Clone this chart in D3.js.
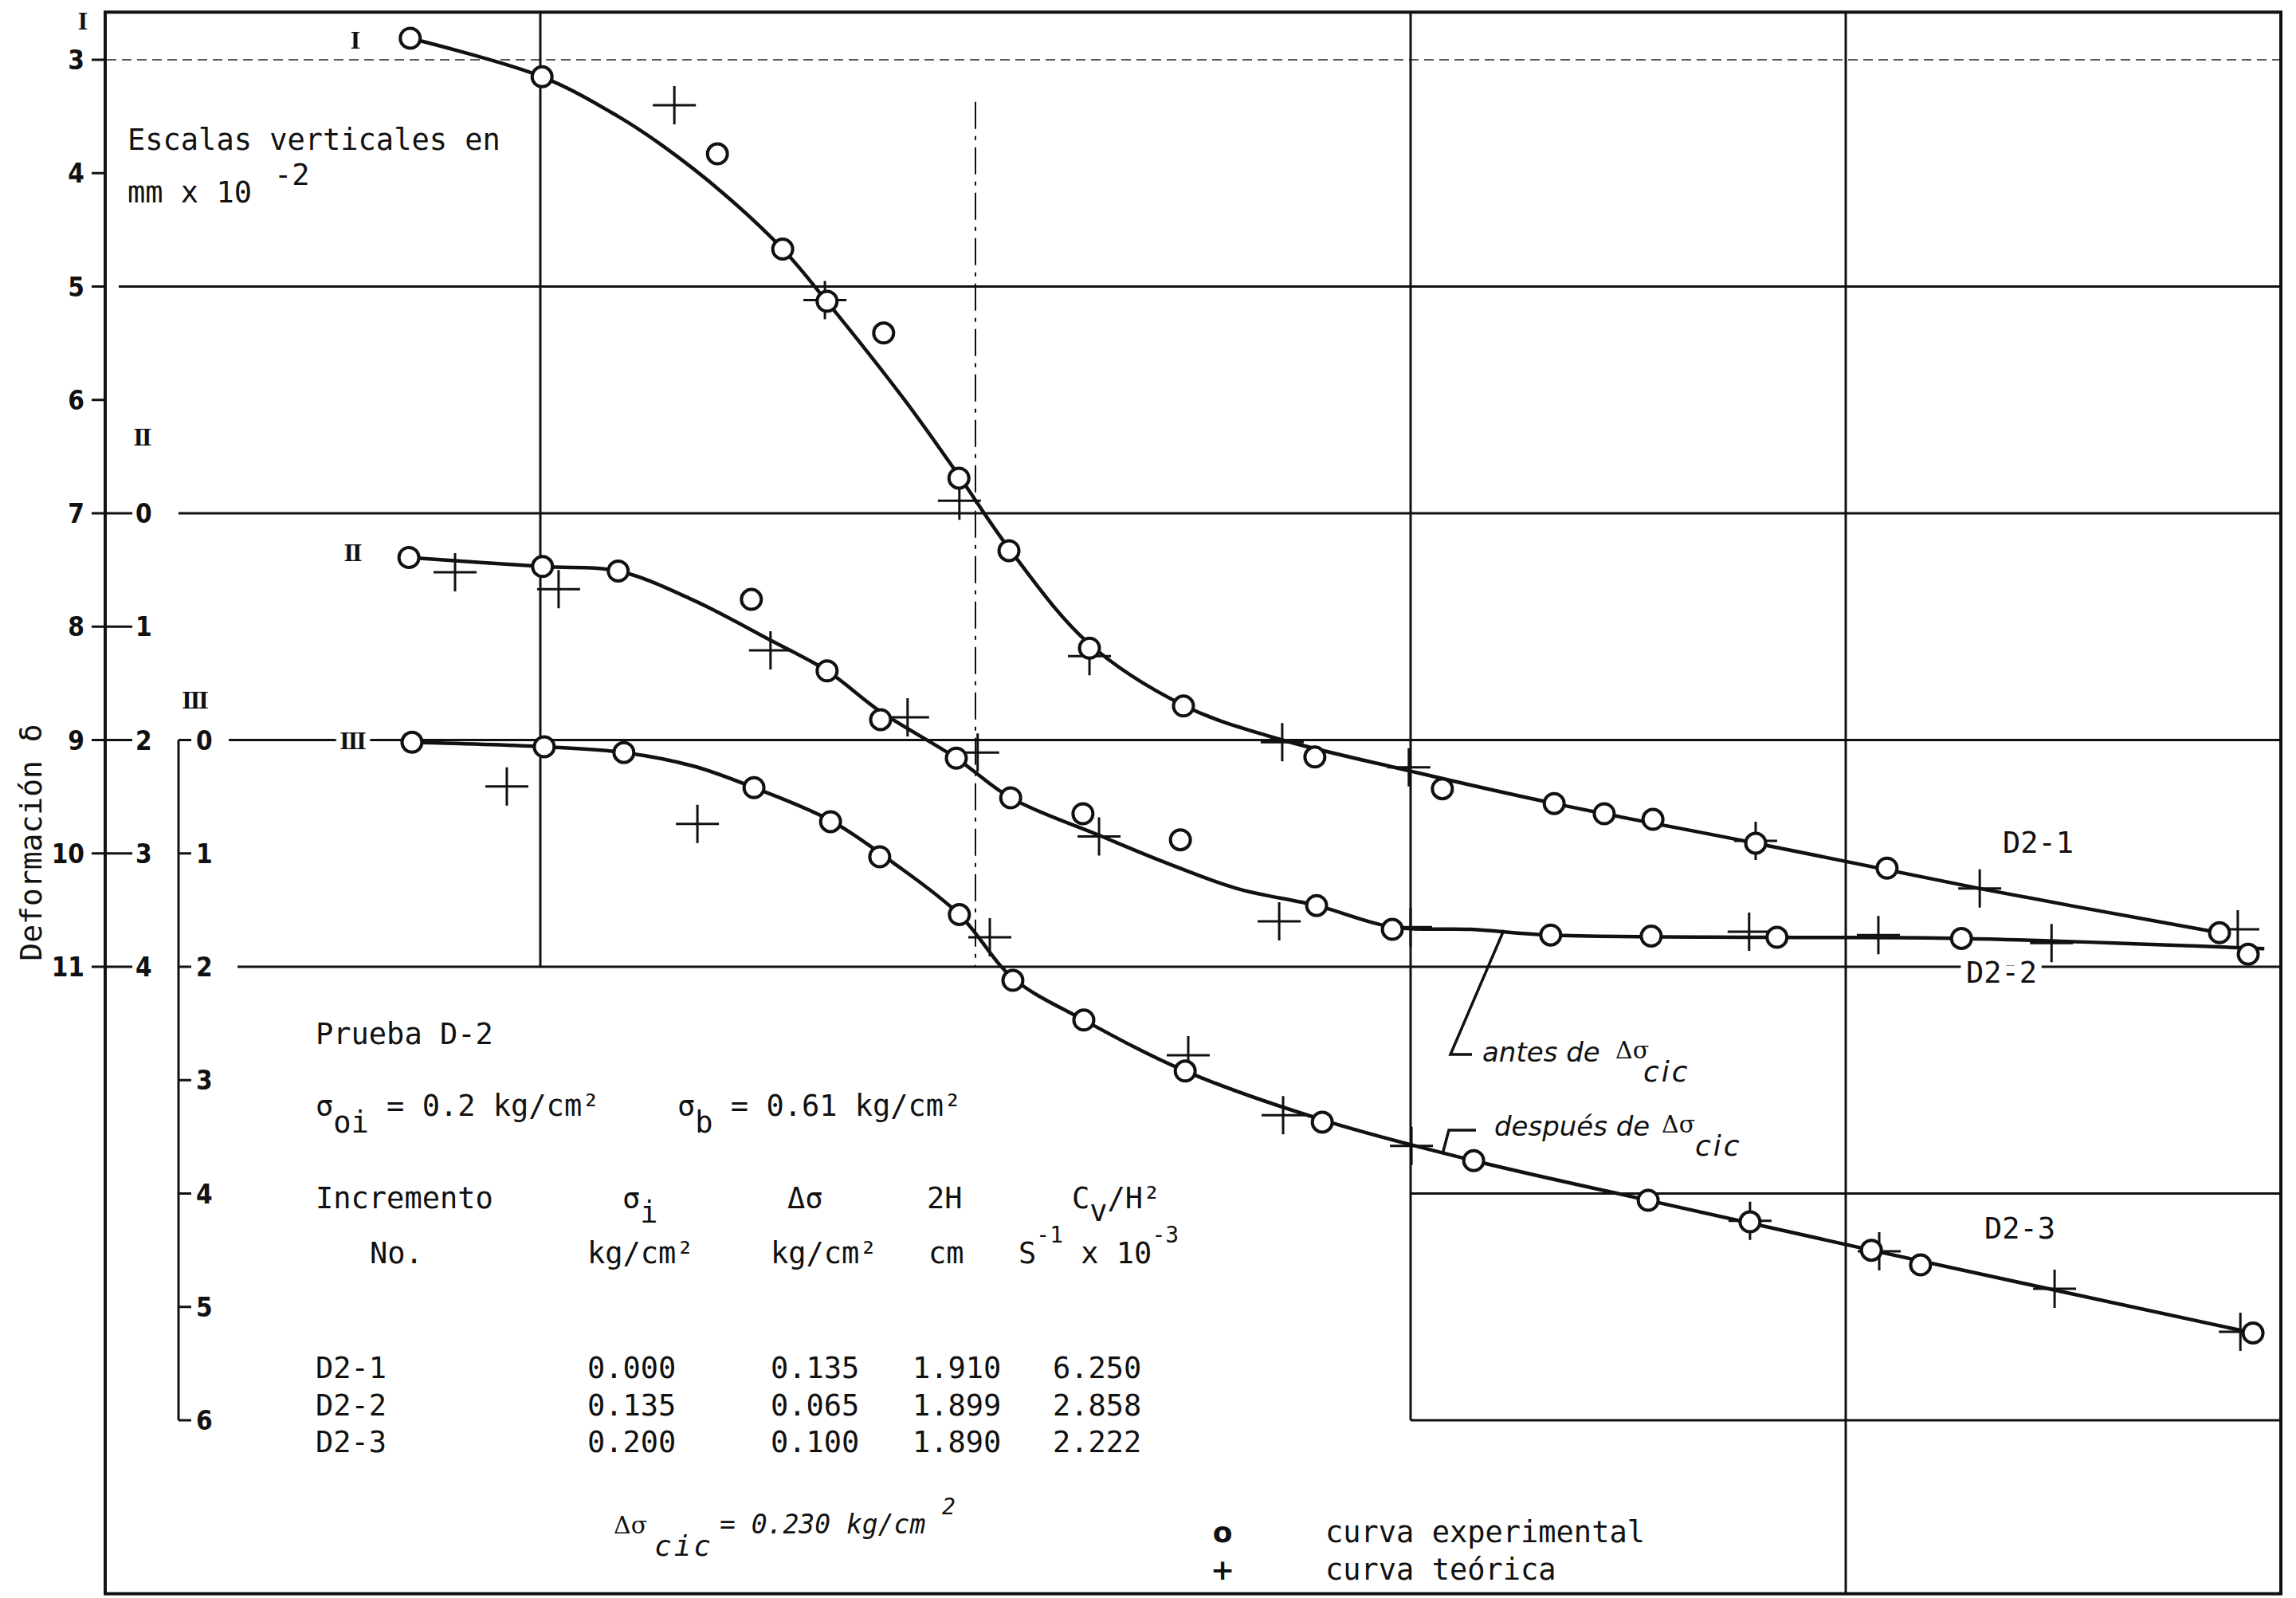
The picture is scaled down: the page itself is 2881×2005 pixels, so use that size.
<!DOCTYPE html>
<html>
<head>
<meta charset="utf-8">
<script src="https://cdn.jsdelivr.net/npm/d3@7"></script>
<style>
  body { margin: 0; background: #fff; }
  svg { display: block; }
  text { font-family: "DejaVu Sans Mono", monospace; fill: #111; }
</style>
</head>
<body>
<svg id="chart" width="2881" height="2005"></svg>
<script>
// x is in log-cycles of time (no labels on the original), y in mm x 10^-2
const xGrid = [1, 2, 3, 4];
const scaleITicks = [3, 4, 5, 6, 7, 8, 9, 10, 11];
const scaleIITicks = [0, 1, 2, 3, 4];
const scaleIIITicks = [0, 1, 2, 3, 4, 5, 6];
const offsetII = 7;   // zero of scale II read on scale I
const offsetIII = 9;  // zero of scale III read on scale I

// curve I (scale I)
const curveIExp = [
  [0.701, 2.81], [1.004, 3.15], [1.407, 3.83], [1.557, 4.67], [1.659, 5.13],
  [1.789, 5.41], [1.962, 6.69], [2.077, 7.33], [2.262, 8.19], [2.478, 8.70],
  [2.780, 9.15], [3.073, 9.43], [3.330, 9.56], [3.445, 9.65], [3.557, 9.70],
  [3.793, 9.91], [4.095, 10.13], [4.859, 10.70],
];
const curveITheo = [
  [1.308, 3.40], [1.654, 5.12], [1.963, 6.89], [2.262, 8.26], [2.705, 9.02],
  [2.996, 9.24], [3.793, 9.89], [4.308, 10.31], [4.901, 10.67],
];
const curveILine = [
  [0.701, 2.81], [1.004, 3.15], [1.179, 3.50], [1.278, 3.75], [1.418, 4.17],
  [1.557, 4.67], [1.656, 5.12], [1.839, 6.01], [1.962, 6.67], [2.077, 7.31],
  [2.258, 8.14], [2.476, 8.69], [2.678, 8.97], [2.995, 9.27], [3.330, 9.56],
  [3.793, 9.91], [4.308, 10.31], [4.859, 10.70],
];

// curve II (scale II)
const curveIIExp = [
  [0.698, 0.39], [1.005, 0.47], [1.179, 0.51], [1.485, 0.76], [1.659, 1.39],
  [1.782, 1.82], [1.956, 2.16], [2.081, 2.51], [2.247, 2.65], [2.471, 2.88],
  [2.784, 3.46], [2.958, 3.67], [3.322, 3.72], [3.553, 3.73], [3.842, 3.74],
  [4.266, 3.75], [4.925, 3.89],
];
const curveIITheo = [
  [0.804, 0.52], [1.042, 0.67], [1.529, 1.21], [1.844, 1.80], [2.005, 2.11],
  [2.284, 2.85], [2.698, 3.60], [3.000, 3.65], [3.778, 3.69], [4.075, 3.72],
  [4.473, 3.79],
];
const curveIILine = [
  [0.698, 0.39], [1.005, 0.47], [1.179, 0.51], [1.348, 0.76], [1.529, 1.12],
  [1.659, 1.39], [1.782, 1.75], [1.956, 2.16], [2.081, 2.51], [2.284, 2.84],
  [2.436, 3.08], [2.601, 3.31], [2.784, 3.46], [2.958, 3.65], [3.139, 3.67],
  [3.322, 3.72], [3.842, 3.74], [4.266, 3.75], [4.962, 3.84],
];

// curve III (scale III)
const curveIIIExp = [
  [0.705, 0.02], [1.009, 0.06], [1.192, 0.11], [1.491, 0.42], [1.667, 0.72],
  [1.780, 1.03], [1.963, 1.54], [2.086, 2.12], [2.249, 2.47], [2.482, 2.92],
  [2.797, 3.37], [3.145, 3.71], [3.546, 4.06], [3.780, 4.25], [4.059, 4.50],
  [4.172, 4.63], [4.936, 5.23],
];
const curveIIITheo = [
  [0.923, 0.41], [1.361, 0.74], [2.033, 1.74], [2.489, 2.78], [2.707, 3.31],
  [3.002, 3.58], [3.780, 4.24], [4.077, 4.51], [4.480, 4.84], [4.907, 5.22],
];
const curveIIILine = [
  [0.705, 0.02], [1.009, 0.06], [1.192, 0.11], [1.352, 0.23], [1.491, 0.42],
  [1.667, 0.71], [1.810, 1.08], [1.963, 1.54], [2.086, 2.10], [2.249, 2.47],
  [2.482, 2.92], [2.797, 3.35], [3.145, 3.71], [3.546, 4.06], [4.059, 4.50],
  [4.936, 5.23],
];

// table of the test
const incrementos = ["D2-1", "D2-2", "D2-3"];
const sigmaI = ["0.000", "0.135", "0.200"];
const deltaSigma = ["0.135", "0.065", "0.100"];
const dosH = ["1.910", "1.899", "1.890"];
const cvH2 = ["6.250", "2.858", "2.222"];

const svg = d3.select("#chart");
const x = d3.scaleLinear().domain([0, 5]).range([132, 2862]);
const y = d3.scaleLinear().domain([3, 11]).range([75, 1213]);
const frameTop = y(2.58), frameBottom = y(16.53);

svg.append("rect").attr("width", 2881).attr("height", 2005).attr("fill", "white");

const grid = svg.append("g").attr("stroke", "#111").attr("fill", "none");

// horizontal lines
grid.append("line")
  .attr("x1", 115).attr("x2", x(5)).attr("y1", y(3)).attr("y2", y(3))
  .attr("stroke-width", 2).attr("stroke-dasharray", "12,7").attr("opacity", 0.7);
const hLines = [
  { v: 5, from: 149, to: x(5) },
  { v: 7, from: 224, to: x(5) },
  { v: 9, from: 287, to: x(5) },
  { v: 11, from: 298, to: x(5) },
  { v: 13, from: x(3), to: x(5) },
  { v: 15, from: x(3), to: x(5) },
];
grid.selectAll(".hline")
  .data(hLines)
  .enter()
  .append("line")
  .attr("class", "hline")
  .attr("x1", (d) => d.from).attr("x2", (d) => d.to)
  .attr("y1", (d) => y(d.v)).attr("y2", (d) => y(d.v))
  .attr("stroke-width", 3);

// vertical lines: 1 and 2 stop at v=11, 3 closes the box at v=15, 4 runs full height
const vEnd = { 1: y(11), 2: y(11), 3: y(15), 4: frameBottom };
grid.selectAll(".vline")
  .data(xGrid)
  .enter()
  .append("line")
  .attr("class", "vline")
  .attr("x1", (d) => x(d)).attr("x2", (d) => x(d))
  .attr("y1", (d) => (d === 2 ? y(3.37) : frameTop))
  .attr("y2", (d) => vEnd[d])
  .attr("stroke-width", (d) => (d === 2 ? 2 : 3))
  .attr("stroke-dasharray", (d) => (d === 2 ? "34,9,5,9" : null));

// frame
grid.append("rect")
  .attr("x", x(0)).attr("y", frameTop)
  .attr("width", x(5) - x(0)).attr("height", frameBottom - frameTop)
  .attr("stroke-width", 4);

// scale I and II ticks on the left edge
const axes = svg.append("g");
axes.selectAll(".tickI")
  .data(scaleITicks)
  .enter()
  .append("line")
  .attr("x1", 115).attr("x2", (d) => (d >= 7 ? 166 : x(0)))
  .attr("y1", (d) => y(d)).attr("y2", (d) => y(d))
  .attr("stroke", "#111").attr("stroke-width", 3);
axes.selectAll(".labI")
  .data(scaleITicks)
  .enter()
  .append("text")
  .attr("x", 106).attr("y", (d) => y(d) + 12)
  .attr("text-anchor", "end")
  .style("font-family", "'DejaVu Sans Condensed', sans-serif")
  .style("font-weight", "bold")
  .style("font-size", "33px")
  .text((d) => d);
axes.selectAll(".labII")
  .data(scaleIITicks)
  .enter()
  .append("text")
  .attr("x", 170).attr("y", (d) => y(d + offsetII) + 12)
  .style("font-family", "'DejaVu Sans Condensed', sans-serif")
  .style("font-weight", "bold")
  .style("font-size", "33px")
  .text((d) => d);

// scale III axis
axes.append("line")
  .attr("x1", 224).attr("x2", 224)
  .attr("y1", y(offsetIII)).attr("y2", y(6 + offsetIII))
  .attr("stroke", "#111").attr("stroke-width", 3);
axes.selectAll(".tickIII")
  .data(scaleIIITicks)
  .enter()
  .append("line")
  .attr("x1", 224).attr("x2", 240)
  .attr("y1", (d) => y(d + offsetIII)).attr("y2", (d) => y(d + offsetIII))
  .attr("stroke", "#111").attr("stroke-width", 3);
axes.selectAll(".labIII")
  .data(scaleIIITicks)
  .enter()
  .append("text")
  .attr("x", 246).attr("y", (d) => y(d + offsetIII) + 12)
  .style("font-family", "'DejaVu Sans Condensed', sans-serif")
  .style("font-weight", "bold")
  .style("font-size", "33px")
  .text((d) => d);

// roman numerals (scales and curves)
const romans = [
  { t: "I", x: 103, y: 37 }, { t: "II", x: 178, y: 559 }, { t: "III", x: 244, y: 889 },
  { t: "I", x: 445, y: 61 }, { t: "II", x: 442, y: 704 }, { t: "III", x: 442, y: 940 },
];
svg.selectAll(".roman")
  .data(romans)
  .enter()
  .append("text")
  .attr("x", (d) => d.x).attr("y", (d) => d.y)
  .attr("text-anchor", "middle")
  .style("font-family", "'Liberation Serif', serif")
  .style("font-weight", "bold")
  .style("font-size", "32px")
  .style("letter-spacing", "-2px")
  .attr("stroke", "white").attr("stroke-width", 16).attr("paint-order", "stroke")
  .text((d) => d.t);

// y axis title
svg.append("text")
  .attr("transform", "translate(52, 1057) rotate(-90)")
  .attr("text-anchor", "middle")
  .style("font-size", "38px")
  .text("Deformación δ");

// curves
const series = [
  { line: curveILine, exp: curveIExp, theo: curveITheo, off: 0 },
  { line: curveIILine, exp: curveIIExp, theo: curveIITheo, off: offsetII },
  { line: curveIIILine, exp: curveIIIExp, theo: curveIIITheo, off: offsetIII },
];
const curves = svg.append("g").attr("id", "curves");
series.forEach((s) => {
  const line = d3.line()
    .x((d) => x(d[0]))
    .y((d) => y(d[1] + s.off))
    .curve(d3.curveCatmullRom.alpha(0.5));
  curves.append("path")
    .datum(s.line)
    .attr("d", line)
    .attr("fill", "none")
    .attr("stroke", "#111")
    .attr("stroke-width", 4.5);
  curves.selectAll(null)
    .data(s.theo)
    .enter()
    .append("path")
    .attr("d", (d) => {
      const cx = x(d[0]), cy = y(d[1] + s.off);
      return `M${cx - 27},${cy}h54M${cx},${cy - 24}v48`;
    })
    .attr("stroke", "#111")
    .attr("stroke-width", 3);
  curves.selectAll(null)
    .data(s.exp)
    .enter()
    .append("circle")
    .attr("cx", (d) => x(d[0]))
    .attr("cy", (d) => y(d[1] + s.off))
    .attr("r", 12.5)
    .attr("fill", "white")
    .attr("stroke", "#111")
    .attr("stroke-width", 4);
});

// curve names
const curveNames = [
  { t: "D2-1", x: 2513, y: 1070 },
  { t: "D2-2", x: 2467, y: 1233 },
  { t: "D2-3", x: 2490, y: 1554 },
];
svg.selectAll(".cname")
  .data(curveNames)
  .enter()
  .append("text")
  .attr("x", (d) => d.x).attr("y", (d) => d.y)
  .style("font-size", "37px")
  .attr("stroke", "white").attr("stroke-width", 18).attr("paint-order", "stroke")
  .text((d) => d.t);

// leader notes
const notes = svg.append("g");
notes.append("path")
  .attr("d", "M1887,1167L1820,1323H1847M1810,1448L1818,1418H1852")
  .attr("fill", "none").attr("stroke", "#111").attr("stroke-width", 3.5);
function deltaNote(tx, ty, label, dx, cx) {
  notes.append("text").attr("x", tx).attr("y", ty)
    .style("font-family", "'DejaVu Sans', sans-serif")
    .style("font-style", "italic").style("font-size", "34px")
    .text(label);
  notes.append("text").attr("x", dx).attr("y", ty - 4)
    .style("font-family", "'DejaVu Serif', serif").style("font-size", "30px")
    .text("Δσ");
  notes.append("text").attr("x", cx).attr("y", ty + 25)
    .style("font-family", "'DejaVu Sans', sans-serif")
    .style("font-style", "italic").style("font-size", "36px")
    .style("letter-spacing", "3px")
    .text("cic");
}
deltaNote(1860, 1332, "antes de", 2027, 2062);
deltaNote(1875, 1425, "después de", 2085, 2127);

// text block
const txt = svg.append("g").style("font-size", "37px");
txt.append("text").attr("x", 160).attr("y", 188).text("Escalas verticales en");
txt.append("text").attr("x", 160).attr("y", 254).text("mm x 10");
txt.append("text").attr("x", 344).attr("y", 232).text("-2");

txt.append("text").attr("x", 396).attr("y", 1310).text("Prueba D-2");

const sig = txt.append("text").attr("x", 396).attr("y", 1400);
sig.append("tspan").text("σ");
sig.append("tspan").attr("dy", 21).text("oi");
sig.append("tspan").attr("dy", -21).text(" = 0.2 kg/cm²");
const sigb = txt.append("text").attr("x", 850).attr("y", 1400);
sigb.append("tspan").text("σ");
sigb.append("tspan").attr("dy", 21).text("b");
sigb.append("tspan").attr("dy", -21).text(" = 0.61 kg/cm²");

// table header
txt.append("text").attr("x", 396).attr("y", 1516).text("Incremento");
txt.append("text").attr("x", 464).attr("y", 1585).text("No.");
const si = txt.append("text").attr("x", 781).attr("y", 1516);
si.append("tspan").text("σ");
si.append("tspan").attr("dy", 18).text("i");
txt.append("text").attr("x", 737).attr("y", 1585).text("kg/cm²");
txt.append("text").attr("x", 988).attr("y", 1516).text("Δσ");
txt.append("text").attr("x", 967).attr("y", 1585).text("kg/cm²");
txt.append("text").attr("x", 1163).attr("y", 1516).text("2H");
txt.append("text").attr("x", 1165).attr("y", 1585).text("cm");
const cv = txt.append("text").attr("x", 1345).attr("y", 1516);
cv.append("tspan").text("C");
cv.append("tspan").attr("dy", 16).text("v");
cv.append("tspan").attr("dy", -16).text("/H²");
const un = txt.append("text").attr("x", 1278).attr("y", 1585);
un.append("tspan").text("S");
un.append("tspan").attr("dy", -26).style("font-size", "28px").text("-1");
un.append("tspan").attr("dy", 26).text(" x 10");
un.append("tspan").attr("dy", -26).style("font-size", "28px").text("-3");

// table rows
const cols = [
  { vals: incrementos, x: 396 },
  { vals: sigmaI, x: 737 },
  { vals: deltaSigma, x: 967 },
  { vals: dosH, x: 1145 },
  { vals: cvH2, x: 1321 },
];
const rowY = [1729, 1776, 1822];
cols.forEach((c) => {
  txt.selectAll(null)
    .data(c.vals)
    .enter()
    .append("text")
    .attr("x", c.x)
    .attr("y", (d, i) => rowY[i])
    .text((d) => d);
});

// cyclic stress note
const cic = svg.append("g")
  .style("font-family", "'DejaVu Sans', sans-serif")
  .style("font-style", "italic");
cic.append("text").attr("x", 770).attr("y", 1924).style("font-size", "30px").style("font-style", "normal")
  .style("font-family", "'DejaVu Serif', serif").text("Δσ");
cic.append("text").attr("x", 821).attr("y", 1952).style("font-size", "36px")
  .style("letter-spacing", "3px").text("cic");
cic.append("text").attr("x", 903).attr("y", 1924).style("font-size", "33px").text("= 0.230 kg/cm");
cic.append("text").attr("x", 1182).attr("y", 1900).style("font-size", "28px").text("2");

// legend
const legend = [
  { sym: "o", label: "curva experimental", y: 1935 },
  { sym: "+", label: "curva teórica", y: 1982 },
];
const lg = svg.append("g");
lg.selectAll(".lsym")
  .data(legend)
  .enter()
  .append("text")
  .attr("x", 1534).attr("y", (d) => d.y)
  .attr("text-anchor", "middle")
  .style("font-family", "'DejaVu Sans', sans-serif")
  .style("font-weight", "bold")
  .style("font-size", "36px")
  .text((d) => d.sym);
lg.selectAll(".llab")
  .data(legend)
  .enter()
  .append("text")
  .attr("x", 1663).attr("y", (d) => d.y)
  .style("font-size", "37px")
  .text((d) => d.label);
</script>
</body>
</html>
